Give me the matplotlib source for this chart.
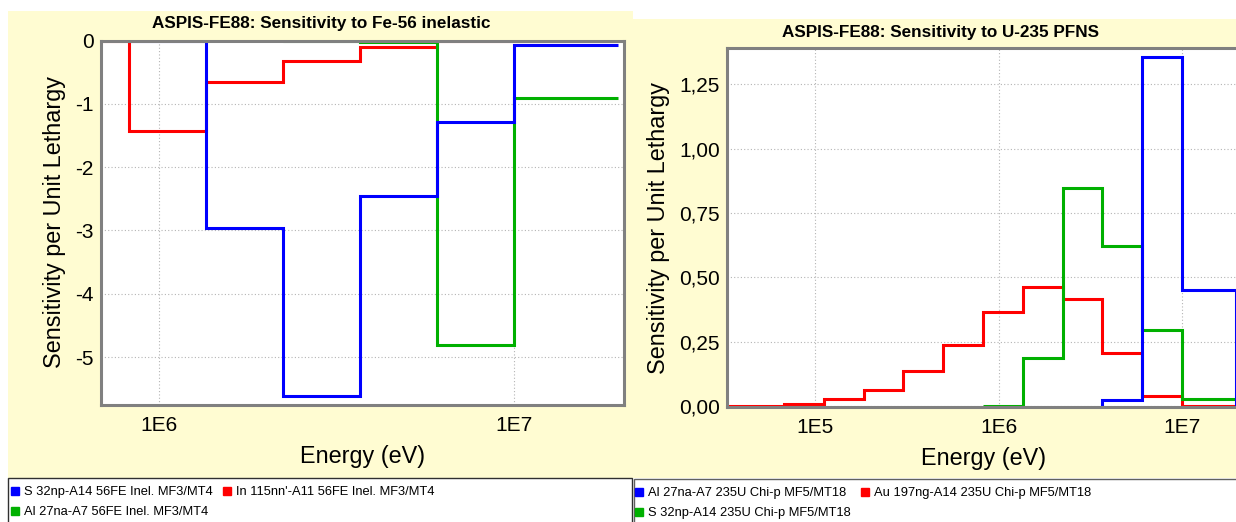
import numpy as np
import matplotlib
matplotlib.use("Agg")
import matplotlib.pyplot as plt
from matplotlib.patches import Rectangle
from matplotlib.lines import Line2D
from matplotlib.ticker import NullLocator

plt.rcParams['font.family'] = ['Liberation Sans', 'DejaVu Sans']
plt.rcParams['axes.unicode_minus'] = False

# --- left chart: sensitivity to Fe-56 inelastic (energy group edges in eV)
fe_s32_edges = [8.21e5, 1.35e6, 2.23e6, 3.68e6, 6.07e6, 1.0e7, 1.96e7]
fe_s32_vals = [0.0, -2.96, -5.62, -2.45, -1.29, -0.07]
fe_in115_edges = [4.98e5, 8.21e5, 1.35e6, 2.23e6, 3.68e6, 6.07e6, 1.0e7, 1.96e7]
fe_in115_vals = [0.0, -1.43, -0.66, -0.32, -0.10, -0.01, 0.0]
fe_al27_edges = [2.23e6, 3.68e6, 6.07e6, 1.0e7, 1.96e7]
fe_al27_vals = [0.0, -0.03, -4.81, -0.91]
fe_labels = ["S 32np-A14 56FE Inel. MF3/MT4",
             "In 115nn'-A11 56FE Inel. MF3/MT4",
             "Al 27na-A7 56FE Inel. MF3/MT4"]
fe_yticks = [0, -1, -2, -3, -4, -5]
fe_xticks = [1e6, 1e7]
fe_xticklabels = ["1E6", "1E7"]

# --- right chart: sensitivity to U-235 PFNS
u_al27_edges = [3.68e6, 6.07e6, 1.0e7, 1.96e7]
u_al27_vals = [0.022, 1.358, 0.450]
u_au197_edges = [2.48e4, 6.74e4, 1.11e5, 1.83e5, 3.02e5, 4.98e5, 8.21e5,
                 1.35e6, 2.23e6, 3.68e6, 6.07e6, 1.0e7, 1.96e7]
u_au197_vals = [0.0, 0.007, 0.029, 0.062, 0.134, 0.236, 0.366, 0.463,
                0.415, 0.204, 0.038, 0.0]
u_s32_edges = [8.21e5, 1.35e6, 2.23e6, 3.68e6, 6.07e6, 1.0e7, 1.96e7]
u_s32_vals = [0.0, 0.188, 0.846, 0.623, 0.294, 0.026]
u_labels = ["Al 27na-A7 235U Chi-p MF5/MT18",
            "Au 197ng-A14 235U Chi-p MF5/MT18",
            "S 32np-A14 235U Chi-p MF5/MT18"]
u_yticks = [0.0, 0.25, 0.5, 0.75, 1.0, 1.25]
u_xticks = [1e5, 1e6, 1e7]
u_xticklabels = ["1E5", "1E6", "1E7"]

BLUE, RED, GREEN = "#0000FF", "#FF0000", "#00B000"
PANEL = "#FFFCD2"

W, H = 1236, 522
fig = plt.figure(figsize=(W / 100, H / 100), dpi=100, facecolor="white")


def fx(px):
    return px / W


def fy(py):
    return 1 - py / H


def box(x0, y0, x1, y1, **kw):
    r = Rectangle((fx(x0), fy(y1)), fx(x1) - fx(x0), fy(y0) - fy(y1),
                  transform=fig.transFigure, **kw)
    fig.patches.append(r)


# yellow panels and white legend boxes
box(8, 11, 633, 478, facecolor=PANEL, edgecolor="none", zorder=-5)
box(633, 19, 1240, 478, facecolor=PANEL, edgecolor="none", zorder=-5)
box(8, 478, 632, 530, facecolor="white", edgecolor="#303030", lw=1, zorder=-4)
box(634, 479, 1240, 530, facecolor="white", edgecolor="#606060", lw=1, zorder=-4)


def style_axes(ax):
    ax.set_xscale("log")
    ax.xaxis.set_minor_locator(NullLocator())
    ax.grid(True, ls=(0, (1, 2)), color="#b4b4b4", lw=0.8)
    for s in ax.spines.values():
        s.set_color("#808080")
        s.set_linewidth(2.2)
    ax.tick_params(length=0, labelsize=15, pad=5)
    ax.tick_params(axis="x", pad=8)


# left chart
ax1 = fig.add_axes([fx(100.5), fy(404.5), (624 - 100.5) / W, (404.5 - 40.5) / H])
style_axes(ax1)
ax1.stairs(fe_in115_vals, fe_in115_edges, baseline=None, color=RED, lw=2.2, zorder=2)
ax1.stairs(fe_al27_vals, fe_al27_edges, baseline=None, color=GREEN, lw=2.2, zorder=2.1)
ax1.stairs(fe_s32_vals, fe_s32_edges, baseline=None, color=BLUE, lw=2.2, zorder=2.2)
ax1.set_xlim(6.82e5, 2.04e7)
ax1.set_ylim(-5.75, 0)
ax1.set_yticks(fe_yticks)
ax1.set_yticklabels([str(v) for v in fe_yticks])
ax1.set_xticks(fe_xticks)
ax1.set_xticklabels(fe_xticklabels)

# right chart
ax2 = fig.add_axes([fx(727), fy(407), (1238.8 - 727) / W, (407 - 48.3) / H])
style_axes(ax2)
ax2.stairs(u_au197_vals, u_au197_edges, baseline=None, color=RED, lw=2.2, zorder=2)
ax2.stairs(u_s32_vals, u_s32_edges, baseline=None, color=GREEN, lw=2.2, zorder=2.1)
ax2.stairs(u_al27_vals, u_al27_edges, baseline=0, color=BLUE, lw=2.2, zorder=2.2)
ax2.set_xlim(3.29e4, 2.04e7)
ax2.set_ylim(-0.004, 1.39)
ax2.set_yticks(u_yticks)
ax2.set_yticklabels([f"{v:.2f}".replace(".", ",") for v in u_yticks])
ax2.set_xticks(u_xticks)
ax2.set_xticklabels(u_xticklabels)

# titles and axis labels
fig.text(fx(321), fy(24), "ASPIS-FE88: Sensitivity to Fe-56 inelastic",
         ha="center", va="center", fontsize=12.3, fontweight="bold")
fig.text(fx(940), fy(32), "ASPIS-FE88: Sensitivity to U-235 PFNS",
         ha="center", va="center", fontsize=12.3, fontweight="bold")
for x, y in [(363, 463), (984, 465)]:
    fig.text(fx(x), fy(y), "Energy (eV)", ha="center", va="baseline", fontsize=16.8)
for x, y in [(54, 222), (659, 228)]:
    fig.text(fx(x), fy(y), "Sensitivity per Unit Lethargy", rotation=90,
             ha="center", va="center", fontsize=16.8)


# legends: two per row, filled row by row
def legend(labels, colors, x, y):
    hs = [Line2D([], [], ls="none", marker="s", markersize=6, color=c) for c in colors]
    order = [0, 2, 1]
    fig.legend([hs[i] for i in order], [labels[i] for i in order],
               loc="upper left", bbox_to_anchor=(fx(x), fy(y)), ncol=2,
               frameon=False, fontsize=9.3, handlelength=0.5, handletextpad=0.45,
               columnspacing=0.8, labelspacing=0.62, borderpad=0, borderaxespad=0)


legend(fe_labels, [BLUE, RED, GREEN], 12, 486)
legend(u_labels, [BLUE, RED, GREEN], 636, 487)

fig.savefig("out.png", dpi=100, facecolor="white")
